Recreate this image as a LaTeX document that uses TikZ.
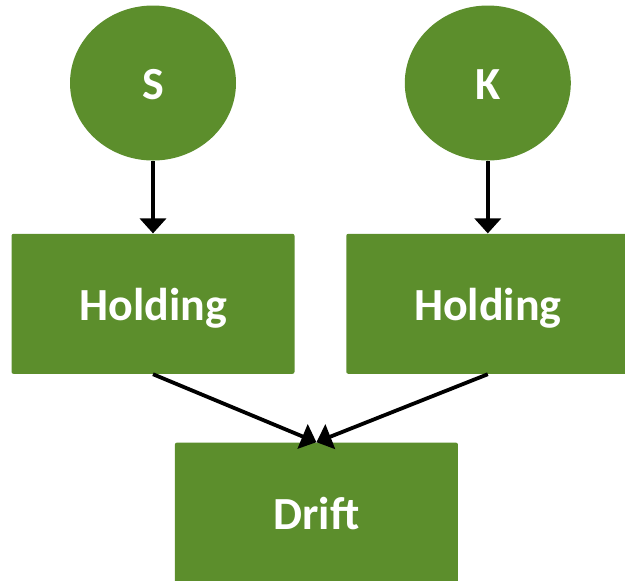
\documentclass[tikz,border=0pt]{standalone}
\usepackage{fontspec}
\setmainfont{Carlito}
\usetikzlibrary{positioning,arrows.meta,shapes.geometric,calc}
\definecolor{leafgreen}{RGB}{92,142,44}

\begin{document}
\begin{tikzpicture}[
		x=0.5pt, y=-0.5pt,
		var/.style={ellipse,fill=leafgreen,minimum width=83pt,minimum height=77.5pt,inner sep=0pt,text=white,text height=16.8pt,text depth=0pt,font=\fontsize{23}{27}\selectfont\bfseries},
		block/.style={rectangle,rounded corners=1pt,fill=leafgreen,minimum width=141.5pt,minimum height=70pt,inner sep=0pt,text=white,text height=16.8pt,text depth=0pt,font=\fontsize{23}{27}\selectfont\bfseries},
		> = {Triangle[length=7.5pt,width=13pt]},
		link/.style={->,line width=1.9pt}
		]
		\useasboundingbox (0,0) rectangle (625,580);
		\node[var] at (153,83) (s) {S};
		\node[var, right=84pt of s] (k) {K};
		\node[block, below=36.25pt of s] (hold1) {Holding};
		\node[block, right=25.5pt of hold1] (hold2) {Holding};
		\node[block, anchor=north, xshift=-2pt, yshift=-34pt] at ($(hold1.south)!0.5!(hold2.south)$) (drift) {Drift};
		% Draw the arrows
		\path[link] (s) edge (hold1)
		(k) edge (hold2)
		(hold1.south) edge (drift.north)
		(hold2.south) edge (drift.north);
\end{tikzpicture}
\end{document}
